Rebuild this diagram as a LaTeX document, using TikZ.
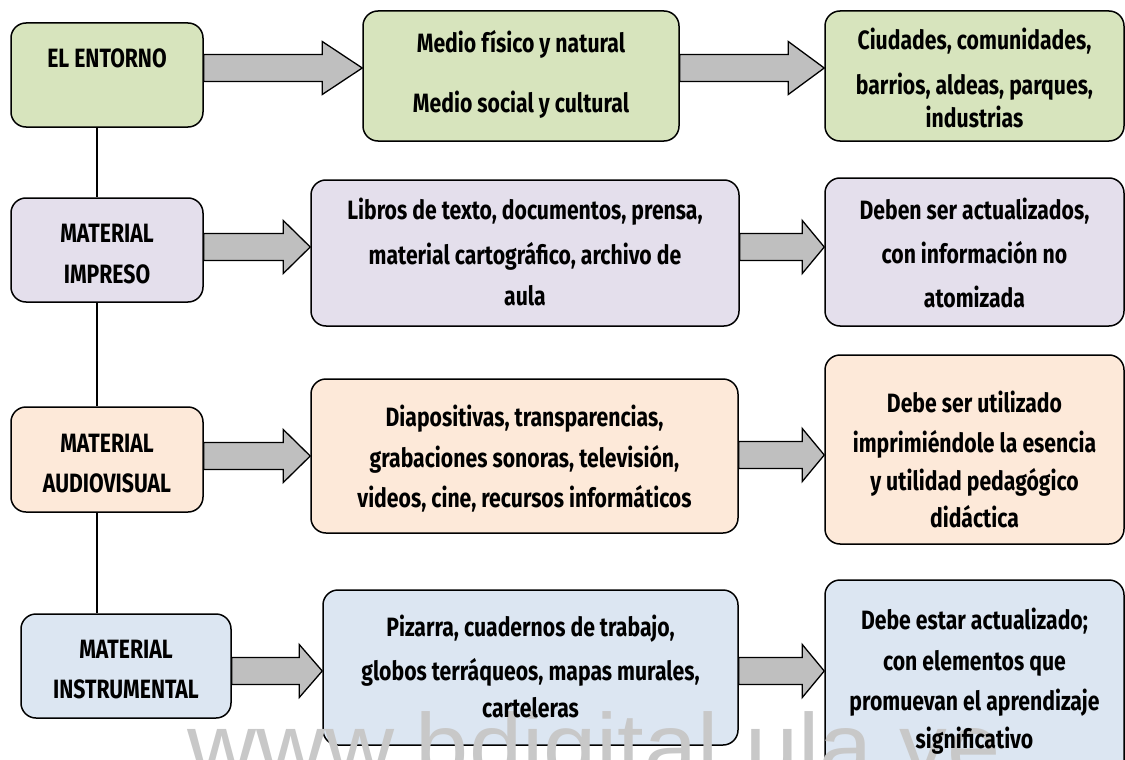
\documentclass[tikz,border=0pt]{standalone}
\usepackage{fontspec}
\newfontfamily\boxfont{Fira Sans}[FakeStretch=0.8]
\newfontfamily\wmfont{Liberation Sans}
\usetikzlibrary{calc}
\definecolor{gfill}{HTML}{D7E4BD}
\definecolor{pfill}{HTML}{E4DFEC}
\definecolor{ofill}{HTML}{FDE9D9}
\definecolor{bfill}{HTML}{DCE6F2}
\definecolor{agray}{HTML}{BFBFBF}
\definecolor{wmgray}{HTML}{C8C8C8}
\tikzset{
  box/.style={draw=black, line width=1.5pt, rounded corners=15pt, inner sep=0pt},
  txt/.style={font=\boxfont\bfseries\fontsize{26.5}{30}\selectfont, inner sep=0pt, anchor=base},
  barrow/.style={draw=black, line width=1.3pt, fill=agray,
    to path={let \p1=(\tikztostart), \p2=(\tikztotarget) in
      (\x1,\y1+13.5pt) -- (\x2-#1,\y1+13.5pt) -- (\x2-#1,\y1+26.5pt) -- (\x2,\y1)
      -- (\x2-#1,\y1-26.5pt) -- (\x2-#1,\y1-13.5pt) -- (\x1,\y1-13.5pt) -- cycle}},
  spine/.style={draw=black, line width=1.3pt}
}
\begin{document}
\begin{tikzpicture}[x=1pt,y=-1pt]
\useasboundingbox (0,0) rectangle (1125,760);
\clip (0,0) rectangle (1125,760);
\coordinate (sp) at (97,0);
% boxes
\node[box, fill=gfill, minimum width=192pt, minimum height=104pt] (e1) at (107,75) {};
\node[box, fill=gfill, minimum width=316pt, minimum height=130pt] (m1) at (521,76) {};
\node[box, fill=gfill, minimum width=299pt, minimum height=130pt] (c1) at (974.5,76) {};
\node[box, fill=pfill, minimum width=192pt, minimum height=104pt] (i2) at (107,250) {};
\node[box, fill=pfill, minimum width=428pt, minimum height=146pt] (l2) at (525,253) {};
\node[box, fill=pfill, minimum width=299pt, minimum height=148pt] (d2) at (974.5,252) {};
\node[box, fill=ofill, minimum width=192pt, minimum height=105pt] (a3) at (107,459.5) {};
\node[box, fill=ofill, minimum width=427pt, minimum height=154pt] (p3) at (524.5,456) {};
\node[box, fill=ofill, minimum width=299pt, minimum height=189pt] (u3) at (974.5,449.5) {};
\node[box, fill=bfill, minimum width=210pt, minimum height=104pt] (n4) at (126,666) {};
\node[box, fill=bfill, minimum width=415pt, minimum height=155pt] (z4) at (530.5,667.5) {};
\node[box, fill=bfill, minimum width=299pt, minimum height=210pt] (s4) at (974.5,685) {};
% spine
\draw[spine] (e1.south -| sp) -- (i2.north -| sp);
\draw[spine] (i2.south -| sp) -- (a3.north -| sp);
\draw[spine] (a3.south -| sp) -- (n4.north -| sp);
% arrows
\draw[barrow=40pt] (e1.east |- 0,68) to (m1.west |- 0,68);
\draw[barrow=36pt] (m1.east |- 0,68) to (c1.west |- 0,68);
\draw[barrow=27pt] (i2.east |- 0,247) to (l2.west |- 0,247);
\draw[barrow=22pt] (l2.east |- 0,247) to (d2.west |- 0,247);
\draw[barrow=27pt] (a3.east |- 0,456) to (p3.west |- 0,456);
\draw[barrow=22pt] (p3.east |- 0,455) to (u3.west |- 0,455);
\draw[barrow=23pt] (n4.east |- 0,671) to (z4.west |- 0,671);
\draw[barrow=22pt] (z4.east |- 0,671) to (s4.west |- 0,671);
% watermark
\node[font=\wmfont\fontsize{91}{100}\selectfont, text=wmgray, xscale=1.05, inner sep=0pt, anchor=base] (wm) at (594,777) {www.bdigital.ula.ve};
% texts
\node[txt] (e1a) at (e1 |- 0,67) {EL ENTORNO};
\node[txt] (m1a) at (m1 |- 0,53) {Medio físico y natural};
\node[txt] (m1b) at (m1 |- 0,112) {Medio social y cultural};
\node[txt] (c1a) at (c1 |- 0,50) {Ciudades, comunidades,};
\node[txt] (c1b) at (c1 |- 0,95) {barrios, aldeas, parques,};
\node[txt] (c1c) at (c1 |- 0,127) {industrias};
\node[txt] (i2a) at (i2 |- 0,242) {MATERIAL};
\node[txt] (i2b) at (i2 |- 0,283) {IMPRESO};
\node[txt] (l2a) at (l2 |- 0,219) {Libros de texto, documentos, prensa,};
\node[txt] (l2b) at (l2 |- 0,264) {material cartográfico, archivo de};
\node[txt] (l2c) at (l2 |- 0,305) {aula};
\node[txt] (d2a) at (d2 |- 0,219) {Deben ser actualizados,};
\node[txt] (d2b) at (d2 |- 0,263) {con información no};
\node[txt] (d2c) at (d2 |- 0,307) {atomizada};
\node[txt] (a3a) at (a3 |- 0,452) {MATERIAL};
\node[txt] (a3b) at (a3 |- 0,492) {AUDIOVISUAL};
\node[txt] (p3a) at (p3 |- 0,426) {Diapositivas, transparencias,};
\node[txt] (p3b) at (p3 |- 0,467) {grabaciones sonoras, televisión,};
\node[txt] (p3c) at (p3 |- 0,507) {videos, cine, recursos informáticos};
\node[txt] (u3a) at (u3 |- 0,412) {Debe ser utilizado};
\node[txt] (u3b) at (u3 |- 0,452) {imprimiéndole la esencia};
\node[txt] (u3c) at (u3 |- 0,490) {y utilidad pedagógico};
\node[txt] (u3d) at (u3 |- 0,527) {didáctica};
\node[txt] (n4a) at (n4 |- 0,658) {MATERIAL};
\node[txt] (n4b) at (n4 |- 0,698) {INSTRUMENTAL};
\node[txt] (z4a) at (z4 |- 0,636) {Pizarra, cuadernos de trabajo,};
\node[txt] (z4b) at (z4 |- 0,680) {globos terráqueos, mapas murales,};
\node[txt] (z4c) at (z4 |- 0,717) {carteleras};
\node[txt] (s4a) at (s4 |- 0,629) {Debe estar actualizado;};
\node[txt] (s4b) at (s4 |- 0,670) {con elementos que};
\node[txt] (s4c) at (s4 |- 0,710) {promuevan el aprendizaje};
\node[txt] (s4d) at (s4 |- 0,748) {significativo};
\end{tikzpicture}
\end{document}
